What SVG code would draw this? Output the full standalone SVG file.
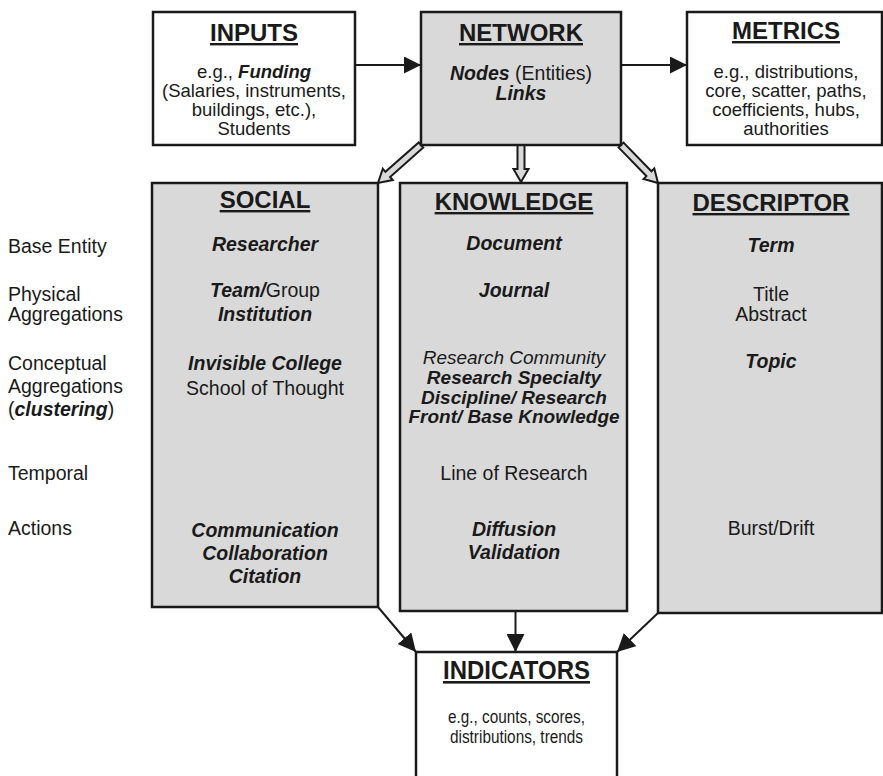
<svg xmlns="http://www.w3.org/2000/svg" width="883" height="776" viewBox="0 0 883 776">
<style>
text{font-family:"Liberation Sans",Arial,Helvetica,sans-serif;fill:#1a1a1a;font-size:19.5px;text-anchor:middle}
.t{font-size:24px;font-weight:bold;text-decoration:underline}
.s{font-size:18.5px}
.k{font-size:19px}
.bi{font-weight:bold;font-style:italic}
.i{font-style:italic}
.lab{text-anchor:start}
.box{stroke:#1a1a1a;stroke-width:2.5}
.w{fill:#ffffff}
.g{fill:#d9d9d9}
.ln{stroke:#1a1a1a;stroke-width:2;fill:none}
.blk{fill:#d9d9d9;stroke:#1a1a1a;stroke-width:2;stroke-linejoin:miter}
</style>
<defs>
<marker id="ah" markerUnits="userSpaceOnUse" markerWidth="18" markerHeight="18" refX="18" refY="9" orient="auto">
<path d="M0,0 L18,9 L0,18 z" fill="#1a1a1a"/>
</marker>
<marker id="ah2" markerUnits="userSpaceOnUse" markerWidth="17" markerHeight="17" refX="17" refY="8.5" orient="auto">
<path d="M0,0 L17,8.5 L0,17 z" fill="#1a1a1a"/>
</marker>
</defs>
<rect width="883" height="776" fill="#ffffff"/>

<g id="connectors">
<line class="ln" x1="355" y1="65" x2="421" y2="65" marker-end="url(#ah2)"/>
<line class="ln" x1="621" y1="65" x2="687" y2="65" marker-end="url(#ah2)"/>
<polygon class="blk" points="423.3,147.6 390.1,177.0 392.7,180.0 378,183 382.8,168.8 385.4,171.8 418.7,142.4"/>
<polygon class="blk" points="524.5,143 524.5,169 528.5,169 521,182 513.5,169 517.5,169 517.5,143"/>
<polygon class="blk" points="618.5,147.4 646.4,176.1 643.6,178.9 658,183 654.3,168.5 651.4,171.3 623.5,142.6"/>
<line class="ln" x1="378" y1="607" x2="416" y2="652" marker-end="url(#ah)"/>
<line class="ln" x1="515.5" y1="611" x2="515.5" y2="652" marker-end="url(#ah)"/>
<line class="ln" x1="658" y1="613" x2="617" y2="652" marker-end="url(#ah)"/>
</g>

<g id="inputs">
<rect class="box w" x="153" y="12" width="202" height="133"/>
<text class="t" x="254" y="41">INPUTS</text>
<text class="s" x="254" y="78">e.g., <tspan class="bi">Funding</tspan></text>
<text class="s" x="254" y="97">(Salaries, instruments,</text>
<text class="s" x="254" y="116">buildings, etc.),</text>
<text class="s" x="254" y="135">Students</text>
</g>

<g id="network">
<rect class="box g" x="421" y="12" width="200" height="133"/>
<text class="t" x="521" y="41">NETWORK</text>
<text x="521" y="80"><tspan class="bi">Nodes</tspan> (Entities)</text>
<text class="bi" x="521" y="100">Links</text>
</g>

<g id="metrics">
<rect class="box w" x="687" y="12" width="195" height="133"/>
<text class="t" x="786" y="39">METRICS</text>
<text class="s" x="786" y="78">e.g., distributions,</text>
<text class="s" x="786" y="97">core, scatter, paths,</text>
<text class="s" x="786" y="116">coefficients, hubs,</text>
<text class="s" x="786" y="135">authorities</text>
</g>

<g id="labels">
<text class="lab" x="8" y="253">Base Entity</text>
<text class="lab" x="8" y="301">Physical</text>
<text class="lab" x="8" y="321">Aggregations</text>
<text class="lab" x="8" y="370">Conceptual</text>
<text class="lab" x="8" y="393">Aggregations</text>
<text class="lab" x="8" y="416">(<tspan class="bi">clustering</tspan>)</text>
<text class="lab" x="8" y="480">Temporal</text>
<text class="lab" x="8" y="535">Actions</text>
</g>

<g id="social">
<rect class="box g" x="152" y="183" width="226" height="424"/>
<text class="t" x="265" y="208">SOCIAL</text>
<text class="bi" x="265" y="251">Researcher</text>
<text x="265" y="297"><tspan class="bi">Team/</tspan>Group</text>
<text class="bi" x="265" y="321">Institution</text>
<text class="bi" x="265" y="370">Invisible College</text>
<text x="265" y="395">School of Thought</text>
<text class="bi" x="265" y="537">Communication</text>
<text class="bi" x="265" y="560">Collaboration</text>
<text class="bi" x="265" y="583">Citation</text>
</g>

<g id="knowledge">
<rect class="box g" x="400" y="183" width="227" height="428"/>
<text class="t" x="514" y="210">KNOWLEDGE</text>
<text class="bi" x="514" y="250">Document</text>
<text class="bi" x="514" y="297">Journal</text>
<text class="i k" x="514" y="364">Research Community</text>
<text class="bi k" x="514" y="384">Research Specialty</text>
<text class="bi k" x="514" y="403.5">Discipline/ Research</text>
<text class="bi k" x="514" y="423">Front/ Base Knowledge</text>
<text x="514" y="480">Line of Research</text>
<text class="bi" x="514" y="536">Diffusion</text>
<text class="bi" x="514" y="559">Validation</text>
</g>

<g id="descriptor">
<rect class="box g" x="658" y="183" width="224" height="430"/>
<text class="t" x="771" y="211">DESCRIPTOR</text>
<text class="bi" x="771" y="252">Term</text>
<text x="771" y="301">Title</text>
<text x="771" y="321">Abstract</text>
<text class="bi" x="771" y="368">Topic</text>
<text x="771" y="535">Burst/Drift</text>
</g>

<g id="indicators">
<rect class="box w" x="416" y="652" width="201" height="140"/>
<text class="t" x="516.5" y="679" style="font-size:26px" textLength="147" lengthAdjust="spacingAndGlyphs">INDICATORS</text>
<text x="516.5" y="723" style="font-size:17.5px" textLength="137" lengthAdjust="spacingAndGlyphs">e.g., counts, scores,</text>
<text x="516.5" y="743" style="font-size:17.5px" textLength="133" lengthAdjust="spacingAndGlyphs">distributions, trends</text>
</g>
</svg>
